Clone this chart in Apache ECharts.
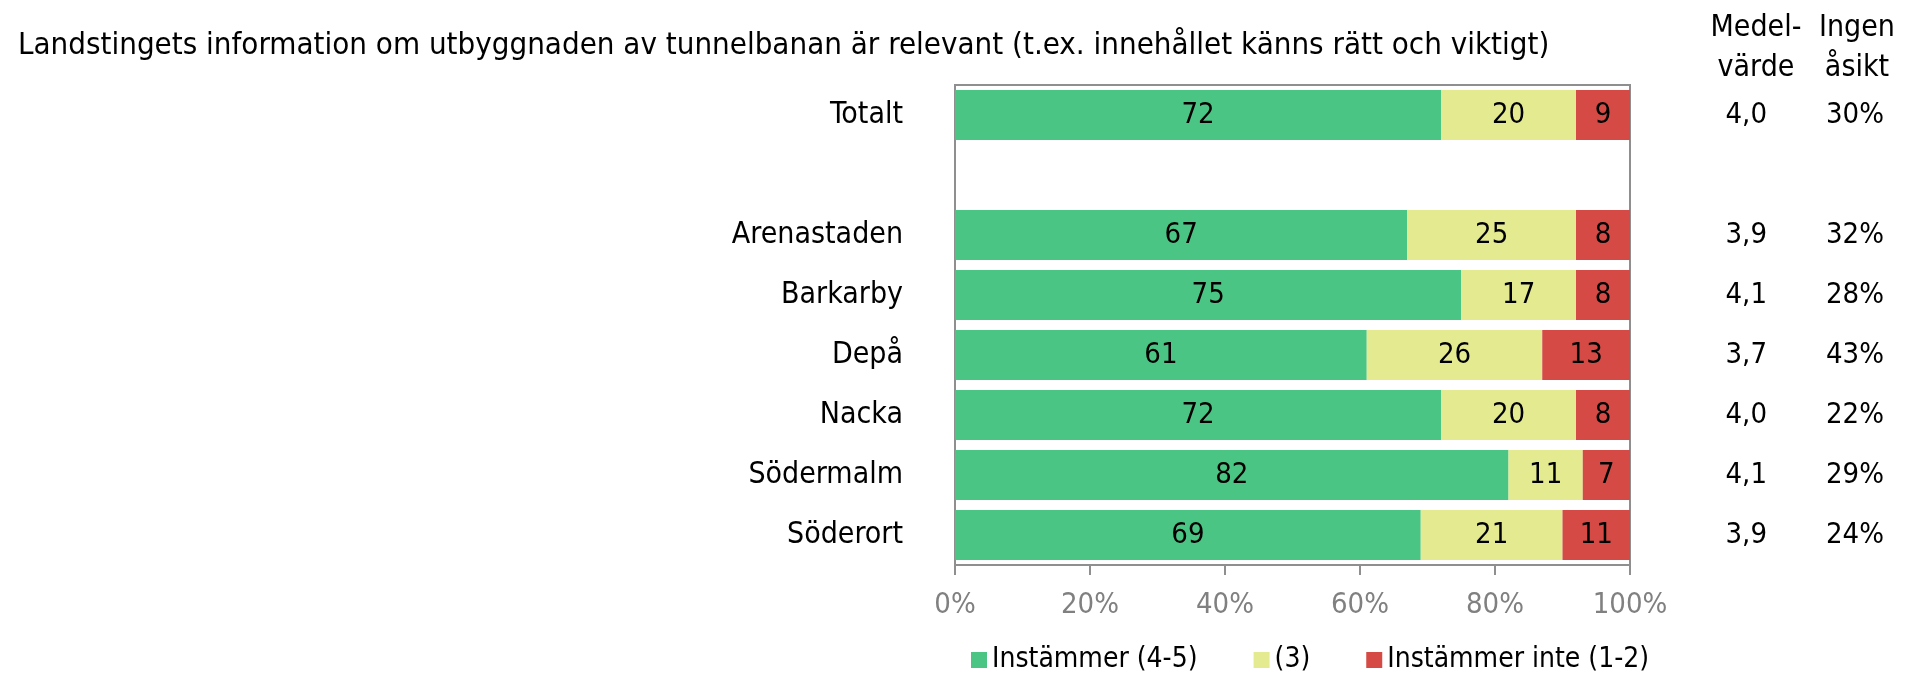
<!DOCTYPE html>
<html>
<head>
<meta charset="utf-8">
<script src="https://cdn.jsdelivr.net/npm/echarts@6/dist/echarts.min.js"></script>
<style>
  html, body { margin: 0; padding: 0; background: #fff; }
  #chart { width: 1905px; height: 673px; }
</style>
</head>
<body>
<div id="chart"></div>
<script>
// data
const categories = ['Totalt', '', 'Arenastaden', 'Barkarby', 'Depå', 'Nacka', 'Södermalm', 'Söderort'];
const agree = [72, null, 67, 75, 61, 72, 82, 69];
const neutral = [20, null, 25, 17, 26, 20, 11, 21];
const disagree = [9, null, 8, 8, 13, 8, 7, 11];
const meanValues = ['4,0', '', '3,9', '4,1', '3,7', '4,0', '4,1', '3,9'];
const noOpinion = ['30%', '', '32%', '28%', '43%', '22%', '29%', '24%'];
const xTicks = [0, 20, 40, 60, 80, 100];

const FONT = "'DejaVu Sans Condensed', 'Liberation Sans', sans-serif";

var chartDom = document.getElementById('chart');
var myChart = echarts.init(chartDom);

function barSeries(name, values, color) {
    return {
        name: name,
        type: 'bar',
        stack: 'total',
        barCategoryGap: '17%',
        data: values,
        itemStyle: { color: color },
        label: {
            show: true,
            position: 'inside',
            color: '#000',
            fontSize: 29,
            fontFamily: FONT
        }
    };
}

function sideAxis(values, offset) {
    return {
        type: 'category',
        data: values,
        inverse: true,
        position: 'right',
        offset: offset,
        axisLine: { show: false },
        axisTick: { show: false },
        axisLabel: {
            interval: 0,
            align: 'right',
            margin: 0,
            color: '#000',
            fontSize: 29,
            fontFamily: FONT
        }
    };
}

var option = {
    animation: false,
    textStyle: { fontFamily: FONT },
    title: [
        {
            text: 'Landstingets information om utbyggnaden av tunnelbanan är relevant (t.ex. innehållet känns rätt och viktigt)',
            left: 13,
            top: 25,
            textStyle: { fontSize: 31, fontWeight: 'normal', color: '#000', fontFamily: FONT }
        },
        {
            text: 'Medel-\nvärde',
            left: 1751,
            top: 3,
            textAlign: 'center',
            textStyle: { fontSize: 30, lineHeight: 40, fontWeight: 'normal', color: '#000', fontFamily: FONT }
        },
        {
            text: 'Ingen\nåsikt',
            left: 1852,
            top: 3,
            textAlign: 'center',
            textStyle: { fontSize: 30, lineHeight: 40, fontWeight: 'normal', color: '#000', fontFamily: FONT }
        }
    ],
    legend: {
        left: 966,
        top: 641,
        itemWidth: 16,
        itemHeight: 16,
        itemGap: 56,
        icon: 'rect',
        textStyle: { fontSize: 28, color: '#000', fontFamily: FONT },
        data: ['Instämmer (4-5)', '(3)', 'Instämmer inte (1-2)']
    },
    grid: {
        left: 955,
        right: 275,
        top: 85,
        height: 480,
        show: true,
        borderColor: '#8f8f8f',
        borderWidth: 2,
        containLabel: false
    },
    xAxis: {
        type: 'value',
        min: 0,
        max: 100,
        interval: 20,
        axisLine: { show: true, lineStyle: { color: '#8f8f8f', width: 2 } },
        axisTick: { show: true, length: 10, lineStyle: { color: '#8f8f8f', width: 2 } },
        splitLine: { show: false },
        axisLabel: {
            margin: 26,
            color: '#808080',
            fontSize: 29,
            fontFamily: FONT,
            formatter: function (v) { return xTicks.indexOf(v) >= 0 ? v + '%' : ''; }
        }
    },
    yAxis: [
        {
            type: 'category',
            data: categories,
            inverse: true,
            axisLine: { show: false },
            axisTick: { show: false },
            axisLabel: {
                interval: 0,
                margin: 52,
                color: '#000',
                fontSize: 30,
                fontFamily: FONT
            }
        },
        sideAxis(meanValues, 137),
        sideAxis(noOpinion, 254)
    ],
    series: [
        barSeries('Instämmer (4-5)', agree, '#4bc584'),
        barSeries('(3)', neutral, '#e4ea90'),
        barSeries('Instämmer inte (1-2)', disagree, '#d64a45')
    ]
};
myChart.setOption(option);
</script>
</body>
</html>
